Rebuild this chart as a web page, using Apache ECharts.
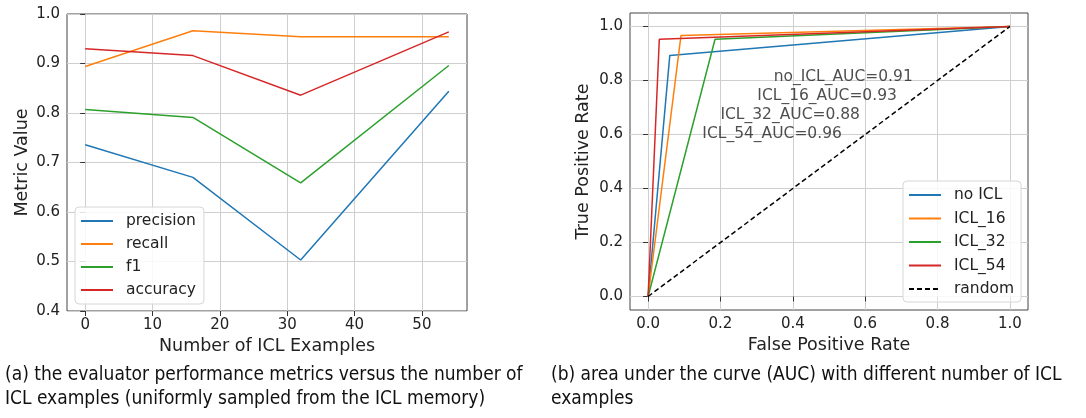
<!DOCTYPE html>
<html>
<head>
<meta charset="utf-8">
<script src="https://cdn.jsdelivr.net/npm/echarts@6/dist/echarts.min.js"></script>
<style>
html,body{margin:0;padding:0;background:#fff;}
#c{width:1086px;height:418px;}
</style>
</head>
<body>
<div id="c"></div>
<script>
// ---- data ----
const iclCounts = [0, 16, 32, 54];
const precision = [0.736, 0.670, 0.503, 0.844];
const recall = [0.894, 0.966, 0.954, 0.954];
const f1 = [0.807, 0.791, 0.659, 0.896];
const accuracy = [0.930, 0.916, 0.836, 0.964];
const metricNames = ['precision', 'recall', 'f1', 'accuracy'];

const rocNames = ['no ICL', 'ICL_16', 'ICL_32', 'ICL_54'];
const rocFpr = [[0, 0.060, 1], [0, 0.091, 1], [0, 0.185, 1], [0, 0.031, 1]];
const rocTpr = [[0, 0.893, 1], [0, 0.967, 1], [0, 0.953, 1], [0, 0.953, 1]];
const randomFpr = [0, 1];
const randomTpr = [0, 1];

const aucTexts = ['no_ICL_AUC=0.91', 'ICL_16_AUC=0.93', 'ICL_32_AUC=0.88', 'ICL_54_AUC=0.96'];
const aucTextX = [0.347, 0.302, 0.200, 0.150];
const aucTextY = [0.814, 0.744, 0.671, 0.603];

const leftXTicks = [0, 10, 20, 30, 40, 50];
const rocTicks = [0, 0.2, 0.4, 0.6, 0.8, 1.0];

const captionA = ['(a) the evaluator performance metrics versus the number of',
                  'ICL examples (uniformly sampled from the ICL memory)'];
const captionB = ['(b) area under the curve (AUC) with different number of ICL',
                  'examples'];

// ---- styles ----
const colors = ['#1f77b4', '#ff7f0e', '#2ca02c', '#d62728'];
const FONT = 'DejaVu Sans';
const CAP_FONT = '"Liberation Sans Narrow", "DejaVu Sans Condensed", "Liberation Sans", sans-serif';
const gridLine = {show: true, lineStyle: {color: '#cfcfcf', width: 1}};
const tickStyle = {show: true, inside: false, length: 5, lineStyle: {color: '#333', width: 1}};
const labelStyle = {color: '#222', fontFamily: FONT, fontSize: 15, margin: 7};
const nameStyle = {color: '#222', fontFamily: FONT, fontSize: 17.5};

const chart = echarts.init(document.getElementById('c'), null, {renderer: 'canvas'});

const metricSeries = [precision, recall, f1, accuracy].map((vals, i) => ({
  name: metricNames[i], type: 'line', xAxisIndex: 0, yAxisIndex: 0,
  data: iclCounts.map((x, j) => [x, vals[j]]),
  symbol: 'none', lineStyle: {color: colors[i], width: 1.5}, itemStyle: {color: colors[i]},
  z: 3, animation: false
}));

const rocSeries = rocNames.map((n, i) => ({
  name: n, type: 'line', xAxisIndex: 1, yAxisIndex: 1,
  data: rocFpr[i].map((x, j) => [x, rocTpr[i][j]]),
  symbol: 'none', lineStyle: {color: colors[i], width: 1.5}, itemStyle: {color: colors[i]},
  z: 3, animation: false
}));
rocSeries.push({
  name: 'random', type: 'line', xAxisIndex: 1, yAxisIndex: 1,
  data: randomFpr.map((x, j) => [x, randomTpr[j]]),
  symbol: 'none', lineStyle: {color: '#000', width: 1.5, type: [5, 3]}, itemStyle: {color: '#000'},
  z: 3, animation: false
});
rocSeries.push({
  name: 'auc', type: 'scatter', xAxisIndex: 1, yAxisIndex: 1,
  data: aucTexts.map((t, i) => ({value: [aucTextX[i], aucTextY[i]], label: {formatter: t}})),
  symbolSize: 0, silent: true, z: 5, animation: false,
  label: {show: true, position: [0, 0], align: 'left', verticalAlign: 'middle',
          color: '#222', fontFamily: FONT, fontSize: 15.5}
});

function captionGraphics(lines, x) {
  return lines.map((t, i) => ({
    type: 'text', left: x, top: 366 + i * 24,
    style: {text: t, fill: '#111', font: '19px ' + CAP_FONT}
  }));
}

const legendCommon = {
  orient: 'vertical', itemWidth: 32, itemHeight: 14,
  backgroundColor: 'rgba(255,255,255,0.85)', borderColor: '#d6d6d6', borderWidth: 1, borderRadius: 4,
  itemStyle: {opacity: 0},
  textStyle: {fontFamily: FONT, fontSize: 15.5, color: '#222', padding: [0, 0, 0, 8]},
  selectedMode: false
};

const option = {
  animation: false,
  backgroundColor: '#fff',
  grid: [
    {left: 67, top: 14, width: 400, height: 297, show: true, borderColor: '#444', borderWidth: 1, backgroundColor: 'transparent'},
    {left: 630, top: 13, width: 398, height: 297, show: true, borderColor: '#444', borderWidth: 1, backgroundColor: 'transparent'}
  ],
  xAxis: [
    {type: 'value', gridIndex: 0, min: -2.7, max: 56.7,
     axisLine: {show: false}, axisTick: Object.assign({customValues: leftXTicks}, tickStyle),
     axisLabel: Object.assign({customValues: leftXTicks, formatter: v => String(Math.round(v))}, labelStyle),
     splitLine: gridLine,
     name: 'Number of ICL Examples', nameLocation: 'middle', nameGap: 23, nameTextStyle: nameStyle},
    {type: 'value', gridIndex: 1, min: -0.05, max: 1.05,
     axisLine: {show: false}, axisTick: Object.assign({customValues: rocTicks}, tickStyle),
     axisLabel: Object.assign({customValues: rocTicks, formatter: v => v.toFixed(1)}, labelStyle),
     splitLine: gridLine,
     name: 'False Positive Rate', nameLocation: 'middle', nameGap: 23, nameTextStyle: nameStyle}
  ],
  yAxis: [
    {type: 'value', gridIndex: 0, min: 0.4, max: 1.0, interval: 0.1,
     axisLine: {show: false}, axisTick: tickStyle,
     axisLabel: Object.assign({formatter: v => v.toFixed(1)}, labelStyle),
     splitLine: gridLine,
     name: 'Metric Value', nameLocation: 'middle', nameGap: 36, nameTextStyle: nameStyle},
    {type: 'value', gridIndex: 1, min: -0.05, max: 1.05,
     axisLine: {show: false}, axisTick: Object.assign({customValues: rocTicks}, tickStyle),
     axisLabel: Object.assign({customValues: rocTicks, formatter: v => v.toFixed(1)}, labelStyle),
     splitLine: gridLine,
     name: 'True Positive Rate', nameLocation: 'middle', nameGap: 38, nameTextStyle: nameStyle}
  ],
  legend: [
    Object.assign({}, legendCommon, {data: metricNames, left: 75, top: 207, itemGap: 7, padding: [6, 8, 6, 5]}),
    Object.assign({}, legendCommon, {data: ['no ICL', 'ICL_16', 'ICL_32', 'ICL_54', 'random'], left: 903, top: 181,
      itemGap: 7.5, padding: [6, 7, 5, 5]})
  ],
  graphic: captionGraphics(captionA, 5).concat(captionGraphics(captionB, 551)),
  series: metricSeries.concat(rocSeries)
};
chart.setOption(option);
</script>
</body>
</html>
